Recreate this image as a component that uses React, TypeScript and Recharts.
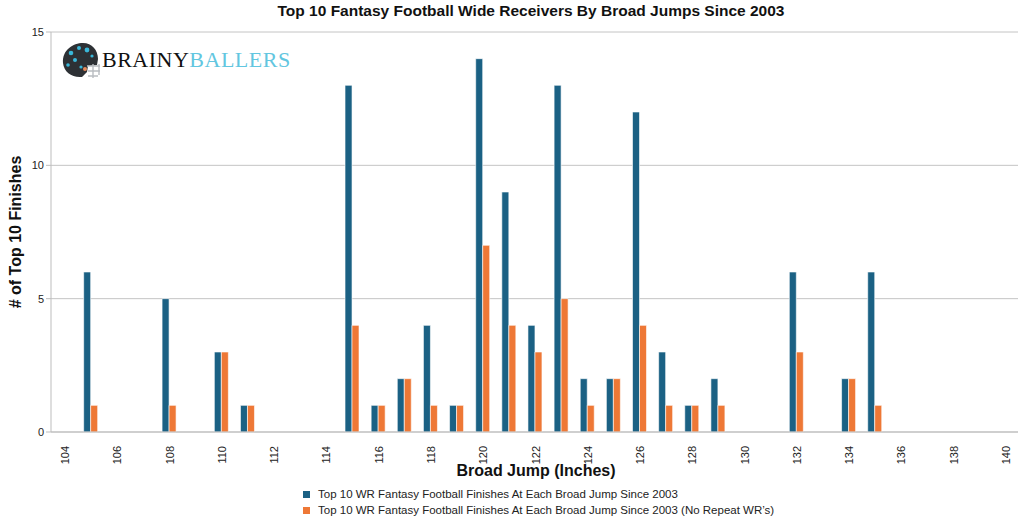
import { Bar, BarChart, CartesianGrid, XAxis, YAxis } from "recharts";

const JUMPS = [
  104, 105, 106, 107, 108, 109, 110, 111, 112, 113, 114, 115, 116, 117, 118, 119, 120, 121, 122,
  123, 124, 125, 126, 127, 128, 129, 130, 131, 132, 133, 134, 135, 136, 137, 138, 139, 140
];
const ALL_FINISHES = [
  0, 6, 0, 0, 5, 0, 3, 1, 0, 0, 0, 13, 1, 2, 4, 1, 14, 9, 4, 13, 2, 2, 12, 3, 1, 2, 0, 0, 6, 0, 2, 6,
  0, 0, 0, 0, 0
];
const UNIQUE_FINISHES = [
  0, 1, 0, 0, 1, 0, 3, 1, 0, 0, 0, 4, 1, 2, 1, 1, 7, 4, 3, 5, 1, 2, 4, 1, 1, 1, 0, 0, 3, 0, 2, 1,
  0, 0, 0, 0, 0
];
const Y_TICKS = [0, 5, 10, 15];

const SERIES = [
  { key: "all", name: "Top 10 WR Fantasy Football Finishes At Each Broad Jump Since 2003", color: "#1b6184" },
  {
    key: "unique",
    name: "Top 10 WR Fantasy Football Finishes At Each Broad Jump Since 2003 (No Repeat WR’s)",
    color: "#ee7836"
  }
];

const data = JUMPS.map((j, i) => ({ jump: j, all: ALL_FINISHES[i], unique: UNIQUE_FINISHES[i] }));

const FONT = "Liberation Sans, Arial, Helvetica, sans-serif";

function XTick(props: any) {
  const { x, y, payload } = props;
  return (
    <text
      transform={`translate(${x + 1},${y + 6}) rotate(-90)`}
      textAnchor="end"
      dominantBaseline="central"
      fontSize={11}
      fill="#222"
      fontFamily={FONT}
    >
      {payload.value}
    </text>
  );
}

// rough stand-in for the logo helmet
function Helmet() {
  return (
    <svg width={40} height={40} viewBox="0 0 40 40" style={{ position: "absolute", left: 61, top: 41 }}>
      <path d="M2 22 C1 9 12 2 22 2 C31 2 37 9 37 18 L36 24 L27 25 L26 31 L21 36 C11 37 3 31 2 22 Z" fill="#2d3135" />
      <circle cx="10" cy="12" r="2.3" fill="#3ab7d8" />
      <circle cx="18" cy="7" r="2" fill="#3ab7d8" />
      <circle cx="26" cy="9" r="2.4" fill="#3ab7d8" />
      <circle cx="14" cy="19" r="2" fill="#3ab7d8" />
      <circle cx="7" cy="24" r="1.8" fill="#3ab7d8" />
      <circle cx="31" cy="15" r="1.6" fill="#3ab7d8" />
      <circle cx="20" cy="26" r="1.6" fill="#3ab7d8" />
      <path d="M26 25 L39 25 M27 30 L39 30 M27 35 L37 35 M32 23 L32 37 M38 23 L38 34" stroke="#b9bdc1" strokeWidth={1.4} fill="none" />
      <circle cx="24" cy="28" r="2" fill="#e58a5a" />
    </svg>
  );
}

export default function App() {
  return (
    <div style={{ position: "absolute", left: 0, top: 0, width: 1024, height: 517, background: "#fff", fontFamily: FONT }}>
      <div
        style={{
          position: "absolute",
          left: 0,
          width: 1062,
          top: 2,
          textAlign: "center",
          fontWeight: "bold",
          fontSize: 15.5,
          color: "#111"
        }}
      >
        Top 10 Fantasy Football Wide Receivers By Broad Jumps Since 2003
      </div>
      <BarChart
        width={1024}
        height={517}
        data={data}
        margin={{ top: 32, right: 6, left: 21, bottom: 45 }}
        barCategoryGap="25%"
        barGap={0}
      >
        <CartesianGrid vertical={false} stroke="#c4c4c4" />
        <XAxis
          dataKey="jump"
          interval={1}
          height={40}
          tick={<XTick />}
          tickLine={false}
          axisLine={{ stroke: "#bdbdbd" }}
        />
        <YAxis
          width={30}
          domain={[0, 15]}
          ticks={Y_TICKS}
          tickLine={{ stroke: "#bdbdbd" }}
          tickSize={5}
          axisLine={{ stroke: "#bdbdbd" }}
          tick={{ fontSize: 11, fill: "#222", fontFamily: FONT }}
        />
        {SERIES.map((s) => (
          <Bar
            key={s.key}
            dataKey={s.key}
            name={s.name}
            fill={s.color}
            stroke="#ffffff"
            strokeWidth={0.6}
            isAnimationActive={false}
          />
        ))}
      </BarChart>
      <div
        style={{
          position: "absolute",
          left: 16,
          top: 232,
          transform: "translate(-50%, -50%) rotate(-90deg)",
          whiteSpace: "nowrap",
          fontWeight: "bold",
          fontSize: 16,
          color: "#111"
        }}
      >
        # of Top 10 Finishes
      </div>
      <div
        style={{
          position: "absolute",
          left: 0,
          width: 1072,
          top: 462,
          textAlign: "center",
          fontWeight: "bold",
          fontSize: 16,
          color: "#111"
        }}
      >
        Broad Jump (Inches)
      </div>
      <div style={{ position: "absolute", left: 303, top: 486, fontSize: 11.5, color: "#222", lineHeight: "16px" }}>
        {SERIES.map((s) => (
          <div key={s.key} style={{ display: "flex", alignItems: "center" }}>
            <span style={{ display: "inline-block", width: 7, height: 7, background: s.color, marginRight: 8 }} />
            {s.name}
          </div>
        ))}
      </div>
      <Helmet />
      <div
        style={{
          position: "absolute",
          left: 102,
          top: 47,
          fontFamily: "Liberation Serif, DejaVu Serif, serif",
          fontSize: 22,
          letterSpacing: 0.5
        }}
      >
        <span style={{ color: "#111" }}>BRAINY</span>
        <span style={{ color: "#62c6e0" }}>BALLERS</span>
      </div>
    </div>
  );
}
